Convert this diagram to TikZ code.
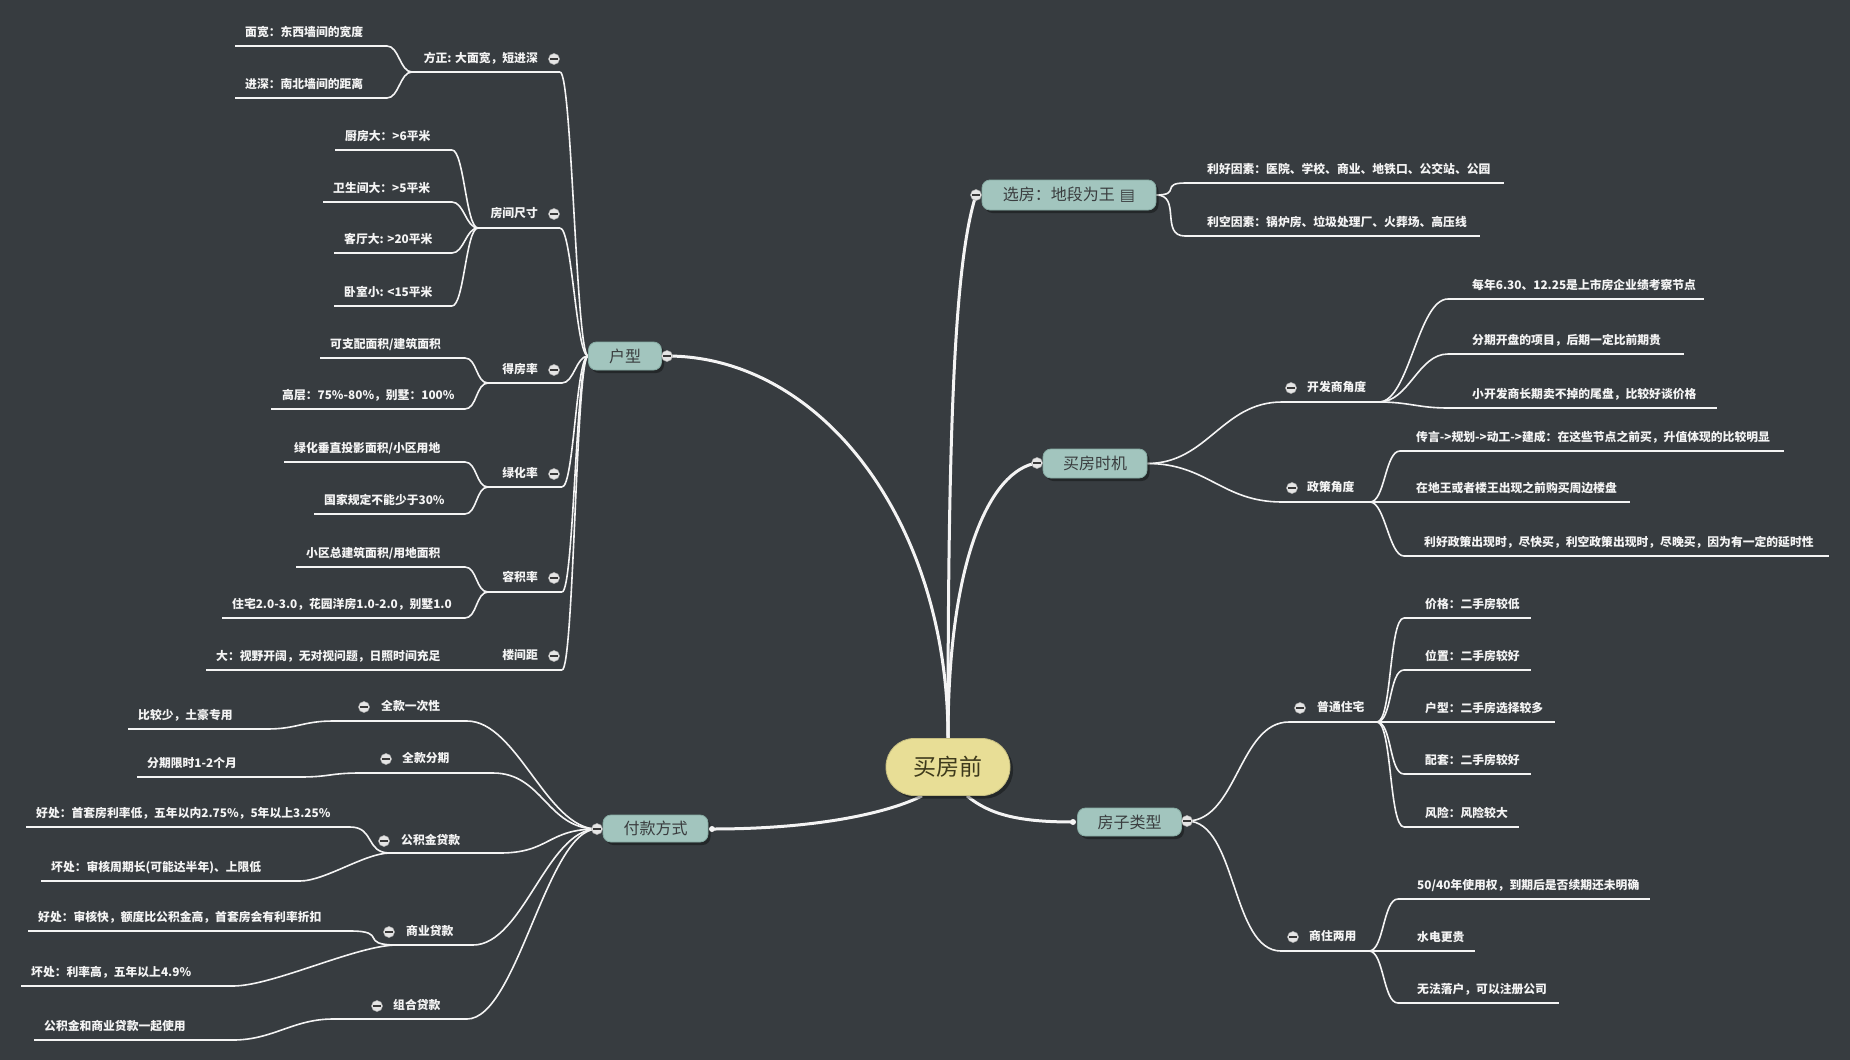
\documentclass[tikz,border=0pt]{standalone}
\usepackage{fontspec}
\setmainfont{Noto Sans CJK SC}
\newfontfamily\symfont{DejaVu Sans}
\usetikzlibrary{shadows}
\definecolor{canvas}{HTML}{373C40}
\definecolor{branchfill}{HTML}{A2C5BE}
\definecolor{branchdraw}{HTML}{86ABA3}
\definecolor{rootfill}{HTML}{E8DE96}
\definecolor{roottext}{HTML}{3E3A1C}
\definecolor{inktext}{HTML}{3A3D3F}
\definecolor{wire}{HTML}{F4F4F4}
\pgfdeclarelayer{canvas layer}
\pgfdeclarelayer{wires}
\pgfsetlayers{canvas layer,wires,main}

% underlined leaf: [text pad]{name}{left x}{right x}{line y}{text}
\newcommand{\leaf}[6][10]{%
  \draw[uline] (#3,#5) coordinate (#2-w) -- (#4,#5) coordinate (#2-e);
  \node[leaftext] (#2) at ([xshift=#1pt,yshift=13pt]#2-w) {#6};}

\begin{document}
\begin{tikzpicture}[
  x=1pt, y=-1pt,
  every node/.style={font=\fontsize{11.8}{14}\selectfont\bfseries, text=wire},
  leaftext/.style={anchor=west, inner sep=0pt, text height=9.5pt, text depth=2pt},
  midtext/.style={inner sep=0pt, text height=9.5pt, text depth=2pt},
  uline/.style={draw=wire, line width=1.6pt},
  twig/.style={draw=wire, line width=1.6pt},
  trunk/.style={draw=wire, line width=3pt},
  branch/.style={rounded corners=8pt, fill=branchfill, draw=branchdraw, line width=.8pt,
    minimum height=28pt, inner sep=0pt, text=inktext, font=\fontsize{16}{18}\selectfont,
    drop shadow={shadow xshift=2.5pt, shadow yshift=-3pt, fill=black, opacity=.35}},
  root/.style={rounded corners=28pt, fill=rootfill, draw=rootfill!85!black, line width=.8pt,
    minimum width=124pt, minimum height=57pt, inner sep=0pt, text=roottext,
    font=\fontsize{23}{26}\selectfont,
    drop shadow={shadow xshift=3pt, shadow yshift=-3pt, fill=black, opacity=.35}},
  fold/.style={circle, draw=gray!60, fill=white!90!black, line width=.5pt, minimum size=11pt,
    inner sep=0pt, path picture={\fill[gray!45!black]
      ([xshift=-3.6pt,yshift=-1pt]path picture bounding box.center) rectangle
      ([xshift=3.6pt,yshift=1pt]path picture bounding box.center);}},
  dot/.style={circle, fill=wire, minimum size=6pt, inner sep=0pt}
]
\useasboundingbox (0,0) rectangle (1850,1060);
\begin{pgfonlayer}{canvas layer}
  \fill[canvas] (0,0) rectangle (1850,1060);
\end{pgfonlayer}

% centre and main branches
\node[root] (root) at (948,767) {买房前};
\node[branch, minimum width=73pt] (hx) at (625,356) {户型};
\node[fold] (hxf) at (667,356) {};
\node[branch, minimum width=174pt, minimum height=30pt] (xf) at (1069,195)
  {选房：地段为王\hspace{5pt}{\symfont\fontsize{16}{16}\selectfont ▤}};
\node[fold] (xff) at (976,195) {};
\node[branch, minimum width=104pt, minimum height=29pt] (sj) at (1095,463.5) {买房时机};
\node[fold] (sjf) at (1037,463) {};
\node[branch, minimum width=104pt] (lx) at (1129.5,822) {房子类型};
\node[dot] (lxd) at (1073,822) {};
\node[fold] (lxf) at (1187,821) {};
\node[branch, minimum width=105pt, minimum height=27pt] (fk) at (655.5,828.5) {付款方式};
\node[fold] (fkf) at (597,829) {};
\node[dot] (fkd) at (712,829) {};

% 户型
\draw[uline] (412,72) coordinate (fz-w) -- (560,72) coordinate (fz-e);
\node[midtext, anchor=east] (fz) at (538,59) {方正: 大面宽，短进深};
\node[fold] at (554,59) {};
\leaf{fz1}{235}{387}{46}{面宽：东西墙间的宽度}
\leaf{fz2}{235}{387}{98}{进深：南北墙间的距离}

\draw[uline] (478,228) coordinate (fj-w) -- (560,228) coordinate (fj-e);
\node[midtext, anchor=east] (fj) at (538,214) {房间尺寸};
\node[fold] at (554,214) {};
\leaf{fj1}{335}{452}{150}{厨房大：>6平米}
\leaf{fj2}{323}{452}{202}{卫生间大：>5平米}
\leaf{fj3}{334}{452}{253}{客厅大: >20平米}
\leaf{fj4}{334}{452}{306}{卧室小: <15平米}

\draw[uline] (488,383) coordinate (df-w) -- (562,383) coordinate (df-e);
\node[midtext, anchor=east] (df) at (538,370) {得房率};
\node[fold] at (554,370) {};
\leaf{df1}{320}{465}{358}{可支配面积/建筑面积}
\leaf[11]{df2}{271}{465}{409}{高层：75\%-80\%，别墅：100\%}

\draw[uline] (488,487) coordinate (lh-w) -- (562,487) coordinate (lh-e);
\node[midtext, anchor=east] (lh) at (538,474) {绿化率};
\node[fold] at (554,474) {};
\leaf{lh1}{284}{465}{462}{绿化垂直投影面积/小区用地}
\leaf{lh2}{314}{465}{514}{国家规定不能少于30\%}

\draw[uline] (488,592) coordinate (rj-w) -- (562,592) coordinate (rj-e);
\node[midtext, anchor=east] (rj) at (538,578) {容积率};
\node[fold] at (554,578) {};
\leaf{rj1}{296}{465}{567}{小区总建筑面积/用地面积}
\leaf{rj2}{222}{465}{618}{住宅2.0-3.0，花园洋房1.0-2.0，别墅1.0}

\draw[uline] (488,670) coordinate (lj-w) -- (562,670) coordinate (lj-e);
\node[midtext, anchor=east] (lj) at (538,656) {楼间距};
\node[fold] at (554,656) {};
\leaf{lj1}{206}{488}{670}{大：视野开阔，无对视问题，日照时间充足}

% 付款方式
\draw[uline] (333,721) coordinate (qc-w) -- (467,721) coordinate (qc-e);
\node[fold] at (364,707) {};
\node[midtext, anchor=west] (qc) at (381,707) {全款一次性};
\leaf{qc1}{128}{267}{729}{比较少，土豪专用}

\draw[uline] (360,773) coordinate (qf-w) -- (493,773) coordinate (qf-e);
\node[fold] at (386,759) {};
\node[midtext, anchor=west] (qf) at (402,759) {全款分期};
\leaf{qf1}{137}{300}{777}{分期限时1-2个月}

\draw[uline] (390,853) coordinate (gj-w) -- (500,853) coordinate (gj-e);
\node[fold] at (384,841) {};
\node[midtext, anchor=west] (gj) at (401,841) {公积金贷款};
\leaf{gj1}{26}{350}{827}{好处：首套房利率低，五年以内2.75\%，5年以上3.25\%}
\leaf{gj2}{41}{300}{881}{坏处：审核周期长(可能达半年)、上限低}

\draw[uline] (397,945) coordinate (sy-w) -- (473,945) coordinate (sy-e);
\node[fold] at (389,932) {};
\node[midtext, anchor=west] (sy) at (406,932) {商业贷款};
\leaf{sy1}{28}{350}{931}{好处：审核快，额度比公积金高，首套房会有利率折扣}
\leaf{sy2}{21}{233}{986}{坏处：利率高，五年以上4.9\%}

\draw[uline] (333,1019) coordinate (zh-w) -- (467,1019) coordinate (zh-e);
\node[fold] at (377,1006) {};
\node[midtext, anchor=west] (zh) at (393,1006) {组合贷款};
\leaf{zh1}{34}{233}{1040}{公积金和商业贷款一起使用}

% 选房
\leaf[22]{xf1}{1185}{1504}{183}{利好因素：医院、学校、商业、地铁口、公交站、公园}
\leaf[22]{xf2}{1185}{1480}{236}{利空因素：锅炉房、垃圾处理厂、火葬场、高压线}

% 买房时机
\draw[uline] (1282,402) coordinate (kf-w) -- (1379,402) coordinate (kf-e);
\node[fold] at (1291,388) {};
\node[midtext, anchor=west] (kf) at (1307,388) {开发商角度};
\leaf[24]{kf1}{1448}{1704}{299}{每年6.30、12.25是上市房企业绩考察节点}
\leaf[24]{kf2}{1448}{1684}{354}{分期开盘的项目，后期一定比前期贵}
\leaf[24]{kf3}{1448}{1717}{408}{小开发商长期卖不掉的尾盘，比较好谈价格}

\draw[uline] (1282,502) coordinate (zc-w) -- (1370,502) coordinate (zc-e);
\node[fold] at (1292,488) {};
\node[midtext, anchor=west] (zc) at (1307,488) {政策角度};
\leaf[16]{zc1}{1400}{1784}{451}{传言->规划->动工->建成：在这些节点之前买，升值体现的比较明显}
\leaf[16]{zc2}{1400}{1630}{502}{在地王或者楼王出现之前购买周边楼盘}
\leaf[20]{zc3}{1404}{1829}{556}{利好政策出现时，尽快买，利空政策出现时，尽晚买，因为有一定的延时性}

% 房子类型
\draw[uline] (1289,722) coordinate (pt-w) -- (1377,722) coordinate (pt-e);
\node[fold] at (1300,708) {};
\node[midtext, anchor=west] (pt) at (1317,708) {普通住宅};
\leaf[21]{pt1}{1404}{1531}{618}{价格：二手房较低}
\leaf[21]{pt2}{1404}{1531}{670}{位置：二手房较好}
\leaf[21]{pt3}{1404}{1555}{722}{户型：二手房选择较多}
\leaf[21]{pt4}{1404}{1531}{774}{配套：二手房较好}
\leaf[21]{pt5}{1404}{1519}{827}{风险：风险较大}

\draw[uline] (1281,951) coordinate (sz-w) -- (1369,951) coordinate (sz-e);
\node[fold] at (1293,937) {};
\node[midtext, anchor=west] (sz) at (1309,937) {商住两用};
\leaf[19]{sz1}{1398}{1650}{899}{50/40年使用权，到期后是否续期还未明确}
\leaf[19]{sz2}{1398}{1475}{951}{水电更贵}
\leaf[19]{sz3}{1398}{1559}{1003}{无法落户，可以注册公司}

\begin{pgfonlayer}{wires}
  % trunks from the centre
  \draw[trunk] (root.north) .. controls (948,520) and (820,356) .. (hxf.center);
  \draw[trunk] (root.north) .. controls (948,420) and (955,260) .. (xff.center);
  \draw[trunk] (root.north) .. controls (948,560) and (990,470) .. (sjf.center);
  \draw[trunk] ([xshift=19pt]root.south) .. controls (990,815) and (1020,822) .. (lxd.center);
  \draw[trunk] ([xshift=-26pt]root.south) .. controls (890,812) and (820,829) .. (fkd.center);

  % 户型
  \foreach \t in {fz,fj,df,lh,rj,lj}
    \draw[twig] (hx.west) to[out=180,in=0,distance=12pt] (\t-e);
  \foreach \t in {fz1,fz2}
    \draw[twig] (fz-w) to[out=180,in=0,distance=12pt] (\t-e);
  \foreach \t in {fj1,fj2,fj3,fj4}
    \draw[twig] (fj-w) to[out=180,in=0,distance=12pt] (\t-e);
  \foreach \t in {df1,df2}
    \draw[twig] (df-w) to[out=180,in=0,distance=12pt] (\t-e);
  \foreach \t in {lh1,lh2}
    \draw[twig] (lh-w) to[out=180,in=0,distance=12pt] (\t-e);
  \foreach \t in {rj1,rj2}
    \draw[twig] (rj-w) to[out=180,in=0,distance=12pt] (\t-e);
  \draw[twig] (lj-w) -- (lj1-e);

  % 付款方式
  \foreach \t in {qc,qf,gj,sy,zh}
    \draw[twig] (fkf.center) to[out=180,in=0,distance=50pt] (\t-e);
  \draw[twig] (qc-w) to[out=180,in=0,distance=30pt] (qc1-e);
  \draw[twig] (qf-w) to[out=180,in=0,distance=30pt] (qf1-e);
  \foreach \t in {gj1,gj2}
    \draw[twig] (gj-w) to[out=180,in=0,distance=25pt] (\t-e);
  \foreach \t in {sy1,sy2}
    \draw[twig] (sy-w) to[out=180,in=0,distance=40pt] (\t-e);
  \draw[twig] (zh-w) to[out=180,in=0,distance=40pt] (zh1-e);

  % 选房
  \foreach \t in {xf1,xf2}
    \draw[twig] (xf.east) to[out=0,in=180,distance=25pt] (\t-w);

  % 买房时机
  \foreach \t in {kf,zc}
    \draw[twig] (sj.east) to[out=0,in=180,distance=60pt] (\t-w);
  \foreach \t in {kf1,kf2,kf3}
    \draw[twig] (kf-e) to[out=0,in=180,distance=30pt] (\t-w);
  \foreach \t in {zc1,zc2,zc3}
    \draw[twig] (zc-e) to[out=0,in=180,distance=15pt] (\t-w);

  % 房子类型
  \foreach \t in {pt,sz}
    \draw[twig] (lxf.center) to[out=0,in=180,distance=50pt] (\t-w);
  \foreach \t in {pt1,pt2,pt3,pt4,pt5}
    \draw[twig] (pt-e) to[out=0,in=180,distance=15pt] (\t-w);
  \foreach \t in {sz1,sz2,sz3}
    \draw[twig] (sz-e) to[out=0,in=180,distance=15pt] (\t-w);
\end{pgfonlayer}
\end{tikzpicture}
\end{document}
